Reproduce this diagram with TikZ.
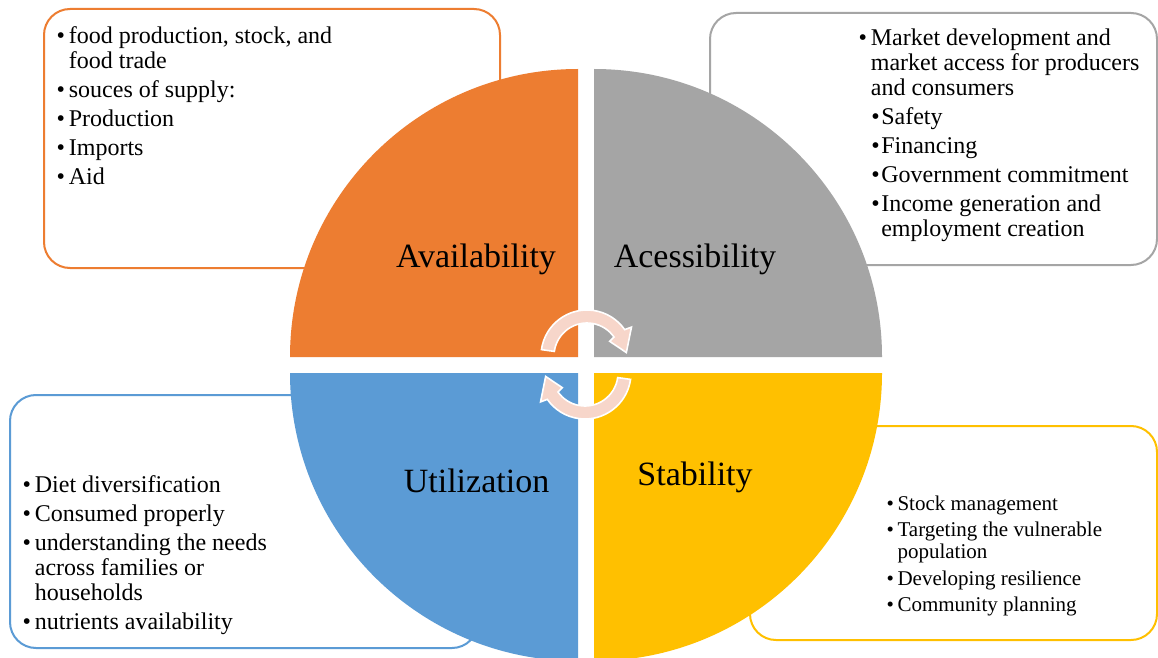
\documentclass[tikz,border=0pt]{standalone}
\usepackage{fontspec}
\setmainfont{Liberation Serif}
\usetikzlibrary{calc}

\definecolor{cOrange}{HTML}{ED7D31}
\definecolor{cGray}{HTML}{A5A5A5}
\definecolor{cBlue}{HTML}{5B9BD5}
\definecolor{cGold}{HTML}{FFC000}
\definecolor{cPink}{HTML}{F7D6CA}

% curved cycle arrow: #1 = centre, #2 = rotation in degrees
\newcommand{\cyclearrow}[2]{%
  \filldraw[arrowshape]
    ($(#1)+(172+#2:46)$) arc[start angle=172+#2, end angle=35+#2, radius=46]
    -- ($(#1)+(33+#2:53)$) -- ($(#1)+(5+#2:39.5)$) -- ($(#1)+(33+#2:27)$)
    -- ($(#1)+(35+#2:33)$) arc[start angle=35+#2, end angle=172+#2, radius=33]
    -- cycle;}

\tikzset{
  infobox/.style={draw=#1, line width=2pt, fill=white, rounded corners=26pt,
                  inner sep=0pt},
  listtext/.style={anchor=base west, inner sep=0pt, outer sep=0pt,
                   font=\fontsize{24}{25}\selectfont},
  smalllist/.style={anchor=base west, inner sep=0pt, outer sep=0pt,
                    font=\fontsize{21}{22}\selectfont},
  quadlabel/.style={anchor=base, inner sep=0pt, font=\fontsize{34}{38}\selectfont},
  arrowshape/.style={fill=cPink, draw=white, line width=1.6pt, line join=miter},
}

\begin{document}
\begin{tikzpicture}[x=1pt, y=1pt]
\useasboundingbox (0,0) rectangle (1158,657);
\fill[white] (0,0) rectangle (1158,657);
\clip (0,0) rectangle (1158,657);

% framed boxes behind the circle
\node[infobox=cOrange, minimum width=456, minimum height=259] (boxA) at (272,518.5) {};
\node[infobox=cGray,   minimum width=447, minimum height=252] (boxB) at (933.5,518) {};
\node[infobox=cBlue,   minimum width=468, minimum height=253] (boxC) at (244,135.5) {};
\node[infobox=cGold,   minimum width=407, minimum height=214] (boxD) at (953.5,124) {};

% the four quarter discs
\fill[cOrange] (578,300) -- ++(180:288) arc[start angle=180, end angle=90, radius=288] -- cycle;
\fill[cGray]   (594,300) -- ++(0:288)   arc[start angle=0,   end angle=90, radius=288] -- cycle;
\fill[cBlue]   (578,284) -- ++(180:288) arc[start angle=180, end angle=270, radius=288] -- cycle;
\fill[cGold]   (594,284) -- ++(0:288)   arc[start angle=0,   end angle=-90, radius=288] -- cycle;

% quadrant titles
\node[quadlabel] (tA) at (476,390) {Availability};
\node[quadlabel] (tB) at (695,390) {Acessibility};
\node[quadlabel] (tC) at (476.5,165) {Utilization};
\node[quadlabel] (tD) at (695,172) {Stability};

% cycle arrows in the middle
\coordinate (ctop) at (587,301);
\coordinate (cbot) at (585,284);
\cyclearrow{ctop}{0}
\cyclearrow{cbot}{180}

% bullet lists
\node[listtext] (lA) at (56.5,613) {%
\begin{tabular}[t]{@{}l@{\hspace{4pt}}l@{}}
• & food production, stock, and\\
  & food trade\\[4pt]
• & souces of supply:\\[4pt]
• & Production\\[4pt]
• & Imports\\[4pt]
• & Aid
\end{tabular}};

\node[listtext] (lB) at (858.5,611) {%
\begin{tabular}[t]{@{}l@{\hspace{4pt}}l@{}}
• & Market development and\\
  & market access for producers\\
  & and consumers\\[4pt]
  & \hspace{0.5pt}•\hspace{1.5pt}Safety\\[4pt]
  & \hspace{0.5pt}•\hspace{1.5pt}Financing\\[4pt]
  & \hspace{0.5pt}•\hspace{1.5pt}Government commitment\\[4pt]
  & \hspace{0.5pt}•\hspace{1.5pt}Income generation and\\
  & \hspace{0.5pt}\phantom{•}\hspace{1.5pt}employment creation
\end{tabular}};

\node[listtext] (lC) at (22.5,165) {%
\begin{tabular}[t]{@{}l@{\hspace{4pt}}l@{}}
• & Diet diversification\\[4pt]
• & Consumed properly\\[4pt]
• & understanding the needs\\
  & across families or\\
  & households\\[4pt]
• & nutrients availability
\end{tabular}};

\node[smalllist] (lD) at (886.7,147) {%
\begin{tabular}[t]{@{}l@{\hspace{3.5pt}}l@{}}
• & Stock management\\[4.5pt]
• & Targeting the vulnerable\\
  & population\\[4.5pt]
• & Developing resilience\\[4.5pt]
• & Community planning
\end{tabular}};
\end{tikzpicture}
\end{document}
